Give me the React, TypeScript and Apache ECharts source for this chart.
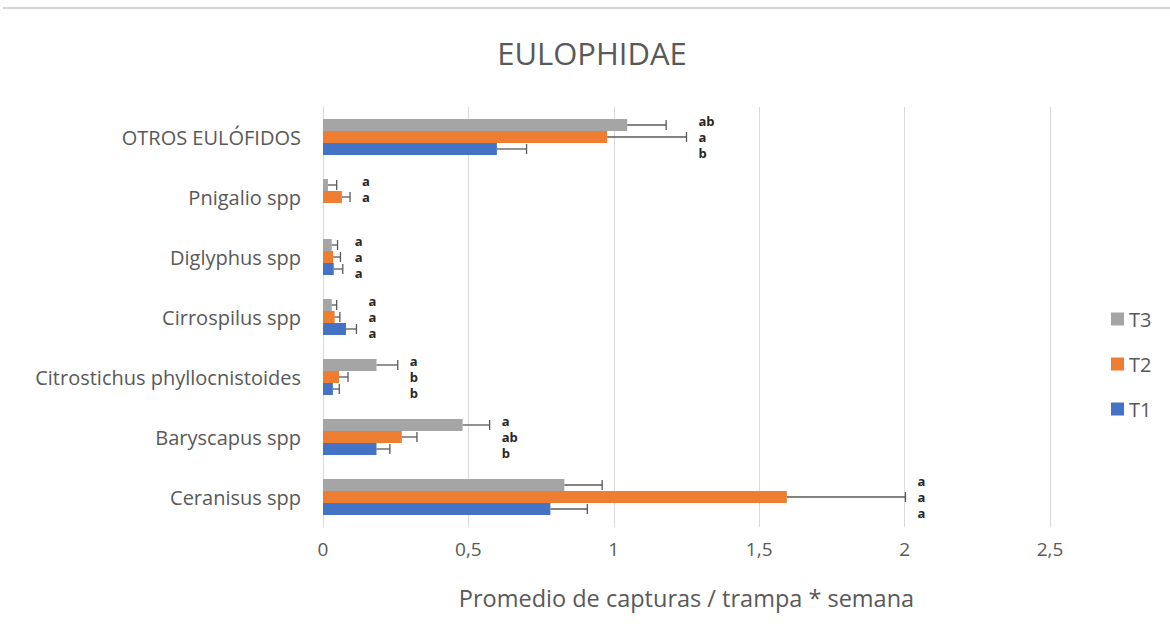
import React, { useEffect, useRef } from "react";
import * as echarts from "echarts";

const categories = [
  "Ceranisus spp",
  "Baryscapus spp",
  "Citrostichus phyllocnistoides",
  "Cirrospilus spp",
  "Diglyphus spp",
  "Pnigalio spp",
  "OTROS EULÓFIDOS",
];

const t1 = [0.782, 0.184, 0.034, 0.079, 0.037, 0, 0.598];
const t1Err = [0.127, 0.046, 0.022, 0.036, 0.031, 0, 0.102];
const t2 = [1.595, 0.271, 0.055, 0.04, 0.035, 0.065, 0.977];
const t2Err = [0.408, 0.052, 0.031, 0.018, 0.025, 0.028, 0.273];
const t3 = [0.83, 0.48, 0.184, 0.03, 0.03, 0.017, 1.046];
const t3Err = [0.13, 0.093, 0.073, 0.017, 0.02, 0.03, 0.134];

const lettersT1 = ["a", "b", "b", "a", "a", "", "b"];
const lettersT2 = ["a", "ab", "b", "a", "a", "a", "a"];
const lettersT3 = ["a", "a", "a", "a", "a", "a", "ab"];

const xTicks = [0, 0.5, 1, 1.5, 2, 2.5];

const FONT = "'Open Sans', sans-serif";
const TXT = "#595959";
const COLORS = { T1: "#4472C4", T2: "#ED7D31", T3: "#A5A5A5" };

function errSeries(name: string, vals: number[], errs: number[], offset: number) {
  return {
    type: "custom",
    name,
    clip: false,
    z: 5,
    encode: { x: 1, y: 0 },
    data: vals.map((v, i) => [i, v, errs[i]]),
    renderItem: (params: any, api: any) => {
      const cat = api.value(0);
      const v = api.value(1);
      const e = api.value(2);
      if (!e) return null;
      const s = api.coord([v, cat]);
      const en = api.coord([v + e, cat]);
      const y = s[1] + offset;
      const st = { stroke: "#595959", lineWidth: 1.3 };
      return {
        type: "group",
        children: [
          { type: "line", shape: { x1: s[0], y1: y, x2: en[0], y2: y }, style: st },
          { type: "line", shape: { x1: en[0], y1: y - 5, x2: en[0], y2: y + 5 }, style: st },
        ],
      };
    },
  };
}

function barSeries(name: string, data: number[], color: string) {
  return {
    type: "bar",
    name,
    data,
    barWidth: 12,
    barGap: "0%",
    itemStyle: { color },
  };
}

export default function App() {
  const ref = useRef<HTMLDivElement>(null);
  useEffect(() => {
    if (!ref.current) return;
    const chart = echarts.init(ref.current, null, { renderer: "svg" });
    const option: any = {
      animation: false,
      backgroundColor: "#ffffff",
      graphic: [
        {
          type: "line",
          shape: { x1: 3, y1: 8, x2: 1170, y2: 8 },
          style: { stroke: "#d4d4d4", lineWidth: 2 },
        },
        {
          type: "text",
          x: 592,
          y: 53,
          style: {
            text: "EULOPHIDAE",
            fill: TXT,
            font: `31px ${FONT}`,
            align: "center",
            verticalAlign: "middle",
          },
        },
      ],
      legend: {
        data: ["T3", "T2", "T1"],
        orient: "vertical",
        left: 1106,
        top: 304,
        itemWidth: 13,
        itemHeight: 13,
        itemGap: 25,
        icon: "rect",
        textStyle: { color: TXT, fontSize: 20, fontFamily: FONT },
      },
      grid: { left: 323, right: 120, top: 107, bottom: 115, containLabel: false },
      xAxis: {
        type: "value",
        min: 0,
        max: 2.5,
        interval: 0.5,
        name: "Promedio de capturas / trampa * semana",
        nameLocation: "middle",
        nameGap: 59,
        nameTextStyle: { color: TXT, fontSize: 23.5, fontFamily: FONT },
        axisLine: { show: false },
        axisTick: { show: false },
        splitLine: { lineStyle: { color: "#d9d9d9", width: 1 } },
        axisLabel: {
          color: TXT,
          fontSize: 19,
          fontFamily: FONT,
          margin: 12,
          formatter: (v: number) => (xTicks.includes(v) ? String(v).replace(".", ",") : ""),
        },
      },
      yAxis: {
        type: "category",
        data: categories,
        axisLine: { show: true, lineStyle: { color: "#d9d9d9" } },
        axisTick: { show: false },
        axisLabel: { color: TXT, fontSize: 20, fontFamily: FONT, margin: 22 },
      },
      series: [
        barSeries("T3", t3, COLORS.T3),
        barSeries("T2", t2, COLORS.T2),
        barSeries("T1", t1, COLORS.T1),
        errSeries("errT3", t3, t3Err, -12),
        errSeries("errT2", t2, t2Err, 0),
        errSeries("errT1", t1, t1Err, 12),
        {
          type: "custom",
          name: "letters",
          clip: false,
          z: 6,
          encode: { x: 1, y: 0 },
          data: categories.map((_, i) => [
            i,
            Math.max(t1[i] + t1Err[i], t2[i] + t2Err[i], t3[i] + t3Err[i]),
          ]),
          renderItem: (params: any, api: any) => {
            const cat = api.value(0);
            const mx = api.value(1);
            const p = api.coord([mx, cat]);
            const x = p[0] + 12;
            const items = [
              { t: lettersT3[cat], dy: -16 },
              { t: lettersT2[cat], dy: 0 },
              { t: lettersT1[cat], dy: 16 },
            ];
            return {
              type: "group",
              children: items
                .filter((it) => it.t)
                .map((it) => ({
                  type: "text",
                  x,
                  y: p[1] + it.dy,
                  style: {
                    text: it.t,
                    fill: "#262626",
                    font: `bold 13px ${FONT}`,
                    lineHeight: 15,
                    align: "left",
                    verticalAlign: "middle",
                  },
                })),
            };
          },
        },
      ],
    };
    chart.setOption(option);
    return () => chart.dispose();
  }, []);
  return (
    <div
      ref={ref}
      style={{ position: "fixed", left: 0, top: 0, width: 1170, height: 642, background: "#fff" }}
    />
  );
}
